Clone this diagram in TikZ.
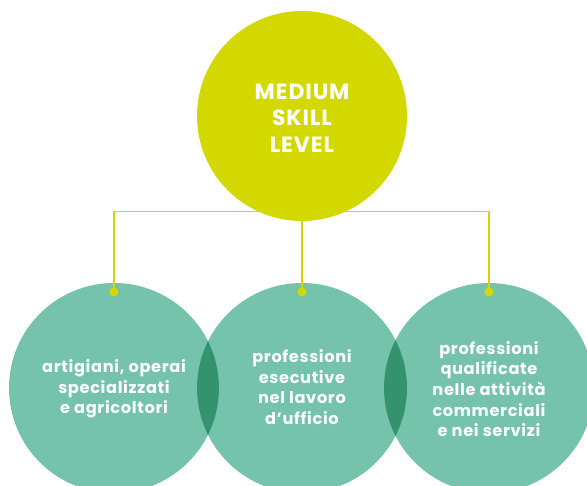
\documentclass[tikz,border=0pt]{standalone}
\usepackage{fontspec}
\setmainfont{Poppins}
\newfontfamily\spacedfont{Poppins}[LetterSpace=4]
\definecolor{lime}{HTML}{D3D800}
\definecolor{teal1}{HTML}{75C3AB}
\definecolor{teal2}{HTML}{35926F}
\tikzset{
  topcircle/.style={circle,fill=lime,minimum size=210pt,inner sep=0pt},
  toptext/.style={text=white,font=\spacedfont\fontsize{22}{26.5}\selectfont\bfseries,align=center},
  botcircle/.style={circle,fill=teal1,minimum size=210pt,inner sep=0pt},
  bottext/.style={text=white,font=\spacedfont\fontsize{16.2}{20.7}\selectfont\bfseries,align=center},
  link/.style={draw=lime,line width=1.6pt},
  dotmark/.style={circle,fill=lime,minimum size=9pt,inner sep=0pt}
}
\begin{document}
\begin{tikzpicture}[x=1pt,y=-1pt]
\useasboundingbox (0,0) rectangle (587,486);
\clip (0,0) rectangle (587,486);
\node[botcircle] (c1) at (114,388) {};
\node[botcircle] (c2) at (302,388) {};
\node[botcircle] (c3) at (489,388) {};
\begin{scope}
  \clip (114,388) circle[radius=105];
  \fill[teal2] (302,388) circle[radius=105];
\end{scope}
\begin{scope}
  \clip (302,388) circle[radius=105];
  \fill[teal2] (489,388) circle[radius=105];
\end{scope}
\node[bottext] (t1) at (114,389) {artigiani, operai\\specializzati\\e agricoltori};
\node[bottext] (t2) at (302,387) {professioni\\esecutive\\nel lavoro\\d’ufficio};
\node[bottext] (t3) at (489,389) {professioni\\qualificate\\nelle attività\\commerciali\\e nei servizi};
\node[dotmark] (d1) at (114,292) {};
\node[dotmark] (d2) at (302,292) {};
\node[dotmark] (d3) at (489,292) {};
\coordinate (h1) at (114,211.7);
\coordinate (h3) at (489,211.7);
\draw[link] (d1.center) -- (h1) -- (h3) -- (d3.center);
\node[topcircle] (top) at (302,116) {};
\node[toptext] (tt) at (302,118) {MEDIUM\\SKILL\\LEVEL};
\draw[link] (top.south) -- (d2.center);
\end{tikzpicture}
\end{document}
